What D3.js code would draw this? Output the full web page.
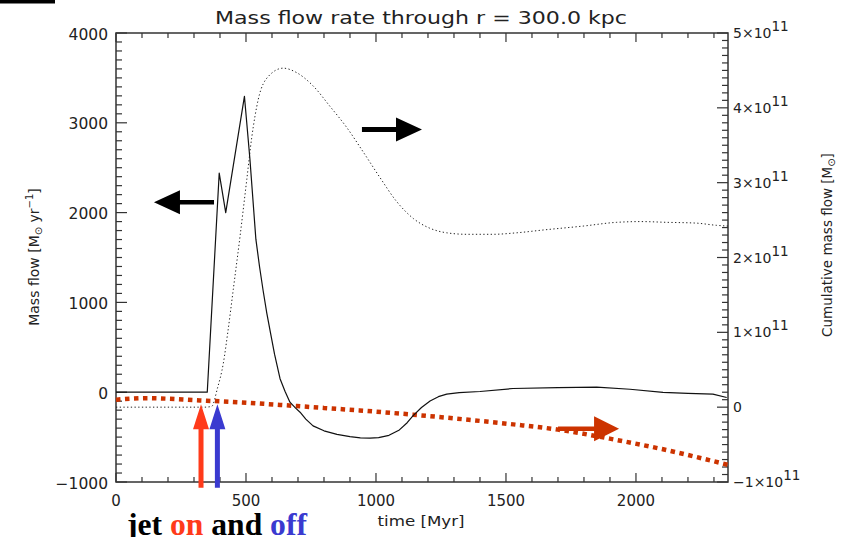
<!DOCTYPE html>
<html>
<head>
<meta charset="utf-8">
<script src="https://cdn.jsdelivr.net/npm/d3@7"></script>
<style>
  body { margin: 0; background: #fff; }
  text { font-family: "DejaVu Sans", sans-serif; fill: #222; }
</style>
</head>
<body>
<div class="container"></div>
<script>
// mass flow through r = 300 kpc (left axis, Msun/yr)
const massT    = [0, 100, 200, 300, 345, 351, 397, 422, 494, 515, 538, 552, 566, 580, 595, 610, 631, 650, 669, 690, 708, 730, 758, 800, 850, 900, 940, 977, 1010, 1050, 1090, 1120, 1142, 1175, 1208, 1240, 1272, 1320, 1400, 1527, 1700, 1849, 1977, 2104, 2200, 2296, 2349]
const massFlow = [0, 0, 0, 0, 0, 0, 2440, 2000, 3295, 2600, 1704, 1400, 1130, 880, 650, 420, 150, 10, -111, -175, -223, -300, -375, -430, -470, -495, -508, -512, -505, -480, -420, -340, -264, -170, -97, -50, -22, -5, 8, 41, 52, 56, 33, -3, -12, -22, -59]

// cumulative mass flow (right axis, units of 1e11 Msun)
const cumT    = [0, 200, 340, 368, 390, 413, 430, 451, 477, 503, 522, 547, 586, 643, 695, 759, 823, 887, 951, 1015, 1079, 1144, 1208, 1272, 1349, 1450, 1541, 1650, 1797, 1926, 2020, 2118, 2230, 2310, 2354]
const cumFlow = [0, 0, 0, 0.01, 0.25, 0.59, 1.0, 1.57, 2.28, 3.04, 3.60, 4.11, 4.42, 4.53, 4.47, 4.29, 4.02, 3.74, 3.41, 3.07, 2.75, 2.52, 2.39, 2.33, 2.31, 2.31, 2.33, 2.37, 2.42, 2.47, 2.48, 2.47, 2.46, 2.43, 2.42]

// red dotted annotation curve (right axis, units of 1e11 Msun)
const redT    = [0, 120, 323, 450, 631, 800, 1000, 1142, 1300, 1528, 1700, 1913, 2100, 2365]
const redFlow = [0.10, 0.12, 0.09, 0.07, 0.03, -0.01, -0.06, -0.10, -0.15, -0.23, -0.30, -0.43, -0.56, -0.78]

const xTicks = [0, 500, 1000, 1500, 2000]
const yTicks = [-1000, 0, 1000, 2000, 3000, 4000]
const y2Ticks = [-1, 0, 1, 2, 3, 4, 5]

const jetOn = 327, jetOff = 390

const container = d3.select('.container')
const svg = container.append('svg').attr('width', 845).attr('height', 537)

const margin = {left: 116, right: 117, top: 33, bottom: 55}
const width = 845 - margin.left - margin.right,
      height = 537 - margin.top - margin.bottom

const x = d3.scaleLinear().domain([0, 2354]).range([margin.left, margin.left + width])
const y = d3.scaleLinear().domain([-1000, 4000]).range([margin.top + height, margin.top])
const y2 = d3.scaleLinear().domain([-1, 5]).range([margin.top + height, margin.top])

const x0 = margin.left, x1 = margin.left + width,
      yb = margin.top + height, yt = margin.top

// little black bar in the top left corner
svg.append('rect').attr('x', 0).attr('y', 0).attr('width', 55).attr('height', 3.5).attr('fill', '#000')

// frame
svg.append('rect')
    .attr('x', x0).attr('y', yt).attr('width', width).attr('height', height)
    .attr('fill', 'none').attr('stroke', '#333').attr('stroke-width', 1.5)

// ticks
const tickG = svg.append('g').attr('stroke', '#333').attr('stroke-width', 1.2)
d3.range(0, 2354, 100).forEach(t => {
    const major = t % 500 === 0, len = major ? 9 : 5
    tickG.append('line').attr('x1', x(t)).attr('x2', x(t)).attr('y1', yb).attr('y2', yb - len)
    tickG.append('line').attr('x1', x(t)).attr('x2', x(t)).attr('y1', yt).attr('y2', yt + len)
})
d3.range(-1000, 4001, 100).forEach(v => {
    const len = v % 1000 === 0 ? 11 : 6
    tickG.append('line').attr('x1', x0).attr('x2', x0 + len).attr('y1', y(v)).attr('y2', y(v))
})
d3.range(-10, 51, 1).forEach(v => {
    const len = v % 10 === 0 ? 11 : 6
    tickG.append('line').attr('x1', x1).attr('x2', x1 - len).attr('y1', y2(v / 10)).attr('y2', y2(v / 10))
})

// tick labels
svg.append('g').selectAll('text').data(xTicks).enter().append('text')
    .attr('x', d => x(d)).attr('y', 505.5)
    .attr('text-anchor', 'middle').style('font-size', '15px')
    .text(d => d)

svg.append('g').selectAll('text').data(yTicks).enter().append('text')
    .attr('x', 108).attr('y', d => y(d) + 6.5)
    .attr('text-anchor', 'end').style('font-size', '15.5px')
    .text(d => d < 0 ? '\u2212' + Math.abs(d) : d)

const r = svg.append('g').selectAll('text').data(y2Ticks).enter().append('text')
    .attr('x', 733).attr('y', d => y2(d) + 5)
    .style('font-size', '14px')
r.each(function(d) {
    const t = d3.select(this)
    if (d === 0) { t.text('0'); return }
    t.append('tspan').text((d < 0 ? '\u2212' : '') + Math.abs(d) + '\u00d710')
    t.append('tspan').attr('dy', -7).style('font-size', '13.5px').text('11')
})

// titles
svg.append('text').attr('x', 421).attr('y', 24).attr('text-anchor', 'middle')
    .style('font-size', '17px').attr('textLength', 412).attr('lengthAdjust', 'spacingAndGlyphs')
    .text('Mass flow rate through r = 300.0 kpc')

svg.append('text').attr('x', 421).attr('y', 526).attr('text-anchor', 'middle')
    .style('font-size', '14px').attr('textLength', 87).attr('lengthAdjust', 'spacingAndGlyphs')
    .text('time [Myr]')

const yl = svg.append('text').attr('transform', 'translate(39,257) rotate(-90)')
    .attr('text-anchor', 'middle').style('font-size', '14px')
yl.append('tspan').text('Mass flow [M')
yl.append('tspan').attr('dy', 3).style('font-size', '10px').text('\u2299')
yl.append('tspan').attr('dy', -3).text(' yr')
yl.append('tspan').attr('dy', -6).style('font-size', '10px').text('\u22121')
yl.append('tspan').attr('dy', 6).text(']')

const yr = svg.append('text').attr('transform', 'translate(832,245) rotate(-90)')
    .attr('text-anchor', 'middle').style('font-size', '13.5px')
yr.append('tspan').text('Cumulative mass flow [M')
yr.append('tspan').attr('dy', 3).style('font-size', '10px').text('\u2299')
yr.append('tspan').attr('dy', -3).text(']')

// series
const massLine = d3.line().x(d => x(d[0])).y(d => y(d[1]))
const cumLine = d3.line().x(d => x(d[0])).y(d => y2(d[1])).curve(d3.curveMonotoneX)

svg.append('path').datum(redT.map((t, i) => [t, redFlow[i]]))
    .attr('d', cumLine).attr('fill', 'none')
    .attr('stroke', '#cc3300').attr('stroke-width', 4.5).attr('stroke-dasharray', '4.5,4.5')

svg.append('path').datum(cumT.map((t, i) => [t, cumFlow[i]]))
    .attr('d', cumLine).attr('fill', 'none')
    .attr('stroke', '#222').attr('stroke-width', 1).attr('stroke-dasharray', '1.3,2.4')

svg.append('path').datum(massT.map((t, i) => [t, massFlow[i]]))
    .attr('d', massLine).attr('fill', 'none')
    .attr('stroke', '#111').attr('stroke-width', 1.2).attr('stroke-linejoin', 'round')

// arrows (tail -> tip), in pixel space from scales
function arrow(ax, ay, bx, by, color, shaft, headLen, headHalf) {
    const dx = bx - ax, dy = by - ay, L = Math.hypot(dx, dy)
    const ux = dx / L, uy = dy / L, nx = -uy, ny = ux
    const hx = bx - ux * headLen, hy = by - uy * headLen
    const s = shaft / 2
    const pts = [
        [ax + nx * s, ay + ny * s], [hx + nx * s, hy + ny * s], [hx + nx * headHalf, hy + ny * headHalf],
        [bx, by],
        [hx - nx * headHalf, hy - ny * headHalf], [hx - nx * s, hy - ny * s], [ax - nx * s, ay - ny * s]
    ]
    svg.append('path').attr('d', 'M' + pts.map(p => p.join(',')).join('L') + 'Z').attr('fill', color)
}

arrow(x(377), y(2116), x(146), y(2116), '#000', 4.5, 26, 12)
arrow(x(946), y2(3.71), x(1177), y2(3.71), '#000', 5, 26, 12)
arrow(x(1700), y2(-0.29), x(1935), y2(-0.29), '#cc3300', 4.5, 25, 12.5)
arrow(x(jetOn), y(-1065), x(jetOn), y(-134), '#ff3a1a', 5, 25, 8)
arrow(x(jetOff), y(-1065), x(jetOff), y(-134), '#3a3ad0', 5, 25, 8)

// caption
const cap = svg.append('text').attr('x', 127).attr('y', 535)
    .attr('textLength', 180).attr('lengthAdjust', 'spacingAndGlyphs')
    .style('font-family', '"Liberation Serif", "Times New Roman", serif')
    .style('font-weight', 'bold').style('font-size', '31px')
cap.append('tspan').style('fill', '#000').text('jet ')
cap.append('tspan').style('fill', '#ff3a1a').text('on')
cap.append('tspan').style('fill', '#000').text(' and ')
cap.append('tspan').style('fill', '#3a3ad0').text('off')
</script>
</body>
</html>
